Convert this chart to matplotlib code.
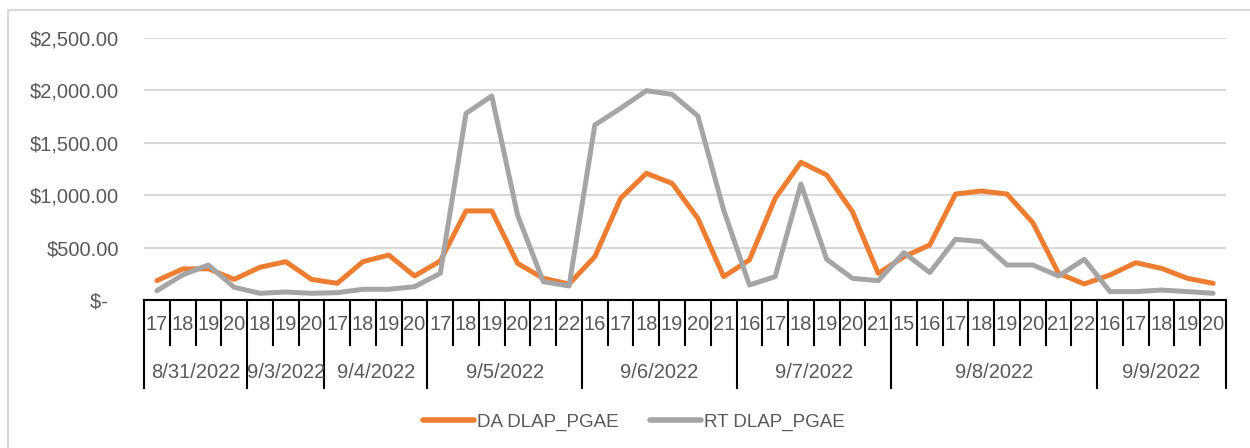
import matplotlib.pyplot as plt
from matplotlib.lines import Line2D
from matplotlib.ticker import FuncFormatter

# ---------------------------------------------------------------
# Data
# ---------------------------------------------------------------
dates = ["8/31/2022", "9/3/2022", "9/4/2022", "9/5/2022",
         "9/6/2022", "9/7/2022", "9/8/2022", "9/9/2022"]
hours = [
    [17, 18, 19, 20],
    [18, 19, 20],
    [17, 18, 19, 20],
    [17, 18, 19, 20, 21, 22],
    [16, 17, 18, 19, 20, 21],
    [16, 17, 18, 19, 20, 21],
    [15, 16, 17, 18, 19, 20, 21, 22],
    [16, 17, 18, 19, 20],
]
da_dlap = [185, 296, 298, 197, 312, 366, 197, 159, 366, 429, 229, 372,
           850, 850, 350, 207, 153, 413, 970, 1209, 1113, 779, 223, 382,
           970, 1314, 1193, 843, 254, 413, 525, 1011, 1040, 1011, 738, 254,
           153, 239, 356, 302, 207, 159]
rt_dlap = [89, 239, 334, 121, 64, 76, 64, 70, 102, 102, 127, 254,
           1781, 1947, 811, 175, 134, 1670, 1829, 1997, 1962, 1756, 859, 143,
           223, 1107, 388, 207, 184, 452, 261, 579, 557, 334, 334, 229,
           388, 80, 80, 95, 80, 64]

ORANGE = "#ED7D31"
GRAY = "#A5A5A5"
TEXT = "#595959"
FONT = "Liberation Sans"


def money(v, pos):
    if v == 0:
        return "$-  "
    return f"${v:,.2f}"


def main():
    plt.rcParams["font.family"] = [FONT, "DejaVu Sans"]

    W, H = 1250, 448
    fig = plt.figure(figsize=(W / 100, H / 100), dpi=100)
    # plot area in pixels: x 144..1226, y 38..300
    ax = fig.add_axes([144 / W, (H - 300) / H, (1226 - 144) / W, (300 - 38) / H])

    n = len(da_dlap)
    x = list(range(n))
    ax.plot(x, da_dlap, color=ORANGE, lw=3.6, solid_capstyle="round",
            solid_joinstyle="round", label="DA DLAP_PGAE", zorder=3)
    ax.plot(x, rt_dlap, color=GRAY, lw=3.6, solid_capstyle="round",
            solid_joinstyle="round", label="RT DLAP_PGAE", zorder=3)

    ax.set_xlim(-0.5, n - 0.5)
    ax.set_ylim(0, 2500)
    ax.set_yticks(range(0, 2501, 500))
    ax.yaxis.set_major_formatter(FuncFormatter(money))
    ax.tick_params(axis="y", length=0, pad=18, labelsize=14.5, labelcolor=TEXT)
    ax.set_xticks([])
    ax.grid(axis="y", color="#D9D9D9", lw=1.5)
    ax.set_axisbelow(True)
    for s in ["top", "right", "left"]:
        ax.spines[s].set_visible(False)
    ax.spines["bottom"].set_color("black")
    ax.spines["bottom"].set_linewidth(1.5)

    # multi-level category axis
    trans = ax.get_xaxis_transform()
    y_hour, y_date = -0.095, -0.275
    y_short, y_long = -0.172, -0.336
    i = 0
    for date, hrs in zip(dates, hours):
        start = i
        for h in hrs:
            ax.text(i, y_hour, str(h), transform=trans, ha="center", va="center",
                    fontsize=14.5, color=TEXT)
            if i != start:
                ax.add_line(Line2D([i - 0.5, i - 0.5], [0, y_short], transform=trans,
                                   color="black", lw=1.5, clip_on=False))
            i += 1
        ax.add_line(Line2D([start - 0.5, start - 0.5], [0, y_long], transform=trans,
                           color="black", lw=1.5, clip_on=False))
        ax.text((start + i - 1) / 2, y_date, date, transform=trans, ha="center",
                va="center", fontsize=14.5, color=TEXT)
    ax.add_line(Line2D([n - 0.5, n - 0.5], [0, y_long], transform=trans,
                       color="black", lw=1.5, clip_on=False))

    leg = fig.legend(loc="center", bbox_to_anchor=(0.507, (H - 422) / H), ncol=2,
                     frameon=False, fontsize=13.5, handlelength=2.7,
                     handletextpad=0.15, columnspacing=1.7)
    for t in leg.get_texts():
        t.set_color(TEXT)
    for l in leg.get_lines():
        l.set_linewidth(4.0)

    # chart area border (left and top edges visible in the reference)
    fig.add_artist(Line2D([8 / W, 8 / W], [0, 1 - 10 / H], transform=fig.transFigure,
                          color="#D9D9D9", lw=1.5))
    fig.add_artist(Line2D([8 / W, 1], [1 - 10 / H, 1 - 10 / H], transform=fig.transFigure,
                          color="#D9D9D9", lw=1.5))

    fig.savefig("out.png", dpi=100)
    plt.close(fig)


if __name__ == "__main__":
    main()
